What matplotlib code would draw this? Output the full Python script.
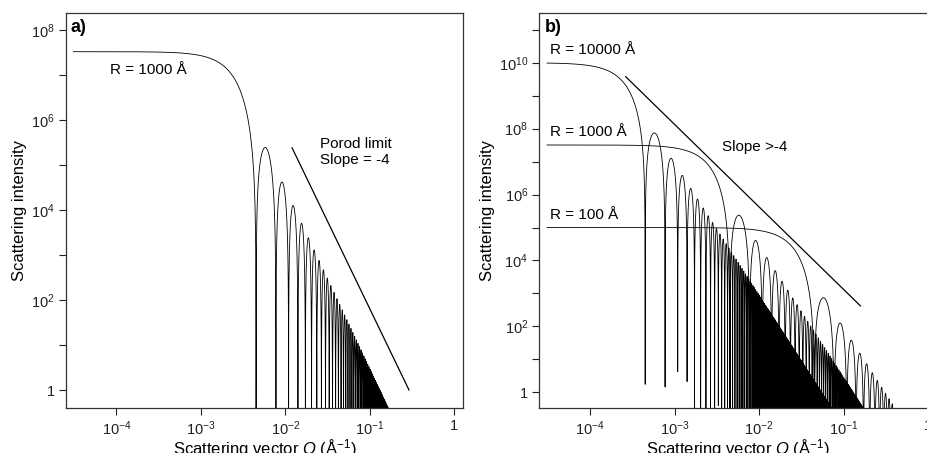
import numpy as np
import matplotlib
matplotlib.use('Agg')
import matplotlib.pyplot as plt
from matplotlib.ticker import FixedLocator, FuncFormatter, NullLocator

plt.rcParams['font.family'] = ['Liberation Sans', 'DejaVu Sans']
plt.rcParams['mathtext.fontset'] = 'custom'
plt.rcParams['mathtext.rm'] = 'Liberation Sans'
plt.rcParams['mathtext.it'] = 'Liberation Sans:italic'

# values
q_range = [3.1e-5, 0.4]            # Å^-1, sampled range of the curves
radii_a = [1000]                   # Å
i0_a = [3.3e7]                     # forward intensity
radii_b = [10000, 1000, 100]
i0_b = [1.0e10, 3.2e7, 1.0e5]
porod_q_a = [0.012, 0.29]
porod_I_a = [2.4e5, 1.0]
slope_q_b = [2.64e-4, 0.158]
slope_I_b = [3.8e9, 4.2e2]
labels_a = ['R = 1000 Å']
labels_b = ['R = 10000 Å', 'R = 1000 Å', 'R = 100 Å']


def sphere(q, R, i0):
    x = q * R
    f = 3 * (np.sin(x) - x * np.cos(x)) / x**3
    return i0 * f**2


q = np.logspace(np.log10(q_range[0]), np.log10(q_range[1]), 60000)


def fmt(v, pos):
    e = int(round(np.log10(v)))
    if e == 0:
        return '1'
    return r'$10^{%d}$' % e


def style(ax, ylo, yhi, ytick_exps, label_exps):
    ax.set_xscale('log')
    ax.set_yscale('log')
    ax.set_xlim(10**-4.6, 10**0.105)
    ax.set_ylim(ylo, yhi)
    ax.xaxis.set_major_locator(FixedLocator([1e-4, 1e-3, 1e-2, 1e-1, 1]))
    ax.xaxis.set_minor_locator(NullLocator())
    ax.xaxis.set_major_formatter(FuncFormatter(fmt))
    ax.yaxis.set_major_locator(FixedLocator([10.0**e for e in ytick_exps]))
    ax.yaxis.set_minor_locator(NullLocator())
    ax.yaxis.set_major_formatter(FuncFormatter(
        lambda v, p: fmt(v, p) if int(round(np.log10(v))) in label_exps else ''))
    ax.tick_params(direction='out', length=5, width=0.8, labelsize=10.5,
                   colors='#222222', pad=3)
    for s in ax.spines.values():
        s.set_linewidth(0.9)
        s.set_color('#333333')
    ax.set_xlabel(r'Scattering vector $Q$ (Å$^{-1}$)', fontsize=12, labelpad=0)
    ax.set_ylabel('Scattering intensity', fontsize=12, labelpad=3)


fig = plt.figure(figsize=(9.27, 4.53), dpi=100)
W, H = 927.0, 453.0

# panel a
ax1 = fig.add_axes([65.7 / W, 1 - 408 / H, (463.3 - 65.7) / W, (408 - 12.7) / H])
for R, i0 in zip(radii_a, i0_a):
    ax1.plot(q, sphere(q, R, i0), color='black', lw=0.6)
ax1.plot(porod_q_a, porod_I_a, color='black', lw=0.9)
style(ax1, 10**-0.4, 10**8.385, range(0, 9), [0, 2, 4, 6, 8])
ax1.text(0.013, 0.983, 'a)', transform=ax1.transAxes, fontsize=13,
         fontweight='bold', va='top')
ax1.text(8.3e-5, 10**7.11, labels_a[0], fontsize=11, va='center')
ax1.text(0.026, 10**5.29, 'Porod limit\nSlope = -4', fontsize=11,
         va='center', linespacing=1.25)

# panel b
ax2 = fig.add_axes([539.3 / W, 1 - 408 / H, (937 - 539.3) / W, (408 - 12.7) / H])
for R, i0 in zip(radii_b, i0_b):
    ax2.plot(q, sphere(q, R, i0), color='black', lw=0.6)
ax2.plot(slope_q_b, slope_I_b, color='black', lw=0.9)
style(ax2, 10**-0.477, 10**11.52, range(0, 12), [0, 2, 4, 6, 8, 10])
ax2.text(0.013, 0.983, 'b)', transform=ax2.transAxes, fontsize=13,
         fontweight='bold', va='top')
for lab, i0 in zip(labels_b, i0_b):
    ax2.text(3.4e-5, i0 * 10**0.39, lab, fontsize=11, va='center')
ax2.text(3.6e-3, 10**7.45, 'Slope >-4', fontsize=11, va='center')

fig.savefig('out.png', dpi=100)
